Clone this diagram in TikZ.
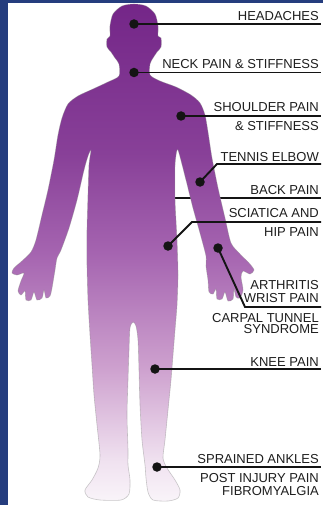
\documentclass[tikz,border=0pt]{standalone}
\usepackage{fontspec}
\setmainfont{Liberation Sans}

\definecolor{frameblue}{RGB}{37,61,126}
\definecolor{inkline}{RGB}{20,20,20}
\definecolor{labeltext}{RGB}{30,30,30}
\definecolor{bodyA}{RGB}{249,244,249}
\definecolor{bodyB}{RGB}{240,226,240}
\definecolor{bodyC}{RGB}{205,160,206}
\definecolor{bodyD}{RGB}{165,100,176}
\definecolor{bodyE}{RGB}{136,64,152}
\definecolor{bodyF}{RGB}{116,38,136}

% vertical fade of the figure, darkest at the head
\pgfdeclareverticalshading{bodyshade}{100bp}{%
  color(0bp)=(bodyA); color(25bp)=(bodyA); color(29bp)=(bodyB);
  color(38.5bp)=(bodyC); color(50bp)=(bodyD); color(60bp)=(bodyE);
  color(75bp)=(bodyF); color(100bp)=(bodyF)}

\tikzset{
  spot/.style={circle, fill=inkline, inner sep=0pt, minimum size=9.5pt},
  leader/.style={draw=inkline, line width=1.9pt},
  lbl/.style={anchor=base east, inner sep=0pt, text=labeltext,
              font=\fontsize{13}{15}\selectfont},
}

\begin{document}
\begin{tikzpicture}[x=1pt, y=-1pt]
  \useasboundingbox (0,0) rectangle (323,505);
  \fill[white] (0,0) rectangle (323,505);
  \fill[frameblue] (0,0) rectangle (8,505);
  \fill[frameblue] (0,0) rectangle (323,3);

  % back-pain leader runs behind the right arm
  \coordinate (backstart) at (175,198);
  \coordinate (backend) at (321,198);
  \draw[leader] (backstart) -- (backend);

  % figure silhouette
  \shadedraw[shading=bodyshade, draw=black!45, draw opacity=0.45, line width=0.6pt]
    plot[smooth cycle, tension=0.45] coordinates {
      (134,4) (146,6) (155,14) (158,26) (158,36)
      (161,38) (161,47) (157,52) (153,58)
      (150,64) (150,75)
      (160,81) (176,87) (191,95) (200,103) (205,115)
      (208,132) (212,158) (218,188) (225,218) (231,243)
      (240,254) (249,263) (254,270) (250,274) (243,271) (241,277)
      (243,290) (240,298) (236,297) (234,289) (233,299) (228,301)
      (225,292) (222,299) (217,299) (216,289) (213,294) (209,292)
      (208,280) (206,266) (206,256)
      (200,233) (193,208) (186,180) (179,153) (177,150)
      (175,165) (175,200) (177,240) (178,275) (177,305) (175,330)
      (173,355) (171,380) (168,410) (165,440) (163,458)
      (167,468) (175,480) (180,490) (178,498) (168,501) (153,500)
      (148,492) (146,478)
      (145,465) (142,440) (140,405) (139,370) (138,340) (136,326)
      (133,322)
      (130,328) (129,350) (128,380) (127,415) (128,450) (128,465)
      (130,480) (129,494) (121,500) (100,500) (88,497) (85,490)
      (92,480) (98,468)
      (100,455) (97,425) (94,395) (92,365) (90,335)
      (88,300) (87,265) (87,230) (88,195) (89,165) (91,150)
      (88,156) (84,170) (77,200) (69,228) (61,250) (57,258)
      (55,270) (52,288) (50,296) (46,298) (44,290) (42,298) (37,300)
      (34,292) (31,300) (26,300) (25,291) (21,295) (18,291) (21,281)
      (24,273) (17,275) (12,273) (14,268) (22,261) (31,252)
      (36,240) (42,215) (48,190) (54,160) (58,135) (62,118)
      (68,104) (78,96) (93,89) (108,82) (119,76)
      (119,64) (115,58)
      (111,52) (107,47) (107,39) (110,36)
      (110,26) (113,14) (122,6)
    };

  % spots on the figure
  \node[spot] (head) at (134,24) {};
  \node[spot] (neck) at (134,72.5) {};
  \node[spot] (shoulder) at (181,116) {};
  \node[spot] (elbow) at (200,182) {};
  \node[spot] (hip) at (168,246) {};
  \node[spot] (wrist) at (218,248) {};
  \node[spot] (knee) at (155,369) {};
  \node[spot] (ankle) at (157,467) {};

  % leader ends and bends
  \coordinate (headend) at (321,24);
  \coordinate (neckend) at (321,72.5);
  \coordinate (shoulderend) at (321,116);
  \coordinate (elbowbend) at (217,164);
  \coordinate (elbowend) at (321,164);
  \coordinate (hipbend) at (192,222);
  \coordinate (hipend) at (321,222);
  \coordinate (wristbend) at (245,307);
  \coordinate (wristend) at (321,307);
  \coordinate (kneeend) at (321,369);
  \coordinate (ankleend) at (321,467);

  \draw[leader] (head.center) -- (headend);
  \draw[leader] (neck.center) -- (neckend);
  \draw[leader] (shoulder.center) -- (shoulderend);
  \draw[leader] (elbow.center) -- (elbowbend) -- (elbowend);
  \draw[leader] (hip.center) -- (hipbend) -- (hipend);
  \draw[leader] (wrist.center) -- (wristbend) -- (wristend);
  \draw[leader] (knee.center) -- (kneeend);
  \draw[leader] (ankle.center) -- (ankleend);

  % labels
  \node[lbl] (t1) at (319,21) {HEADACHES};
  \node[lbl] (t2) at (319,68.5) {NECK PAIN \& STIFFNESS};
  \node[lbl] (t3a) at (319,112) {SHOULDER PAIN};
  \node[lbl] (t3b) at (319,131) {\& STIFFNESS};
  \node[lbl] (t4) at (319,161) {TENNIS ELBOW};
  \node[lbl] (t5) at (319,194) {BACK PAIN};
  \node[lbl] (t6a) at (319,217) {SCIATICA AND};
  \node[lbl] (t6b) at (319,236) {HIP PAIN};
  \node[lbl] (t7a) at (319,289) {ARTHRITIS};
  \node[lbl] (t7b) at (319,302.5) {WRIST PAIN};
  \node[lbl] (t8a) at (319,322) {CARPAL TUNNEL};
  \node[lbl] (t8b) at (319,333.5) {SYNDROME};
  \node[lbl] (t9) at (319,366) {KNEE PAIN};
  \node[lbl] (t10a) at (319,463) {SPRAINED ANKLES};
  \node[lbl] (t10b) at (319,482) {POST INJURY PAIN};
  \node[lbl] (t10c) at (319,495) {FIBROMYALGIA};
\end{tikzpicture}
\end{document}
